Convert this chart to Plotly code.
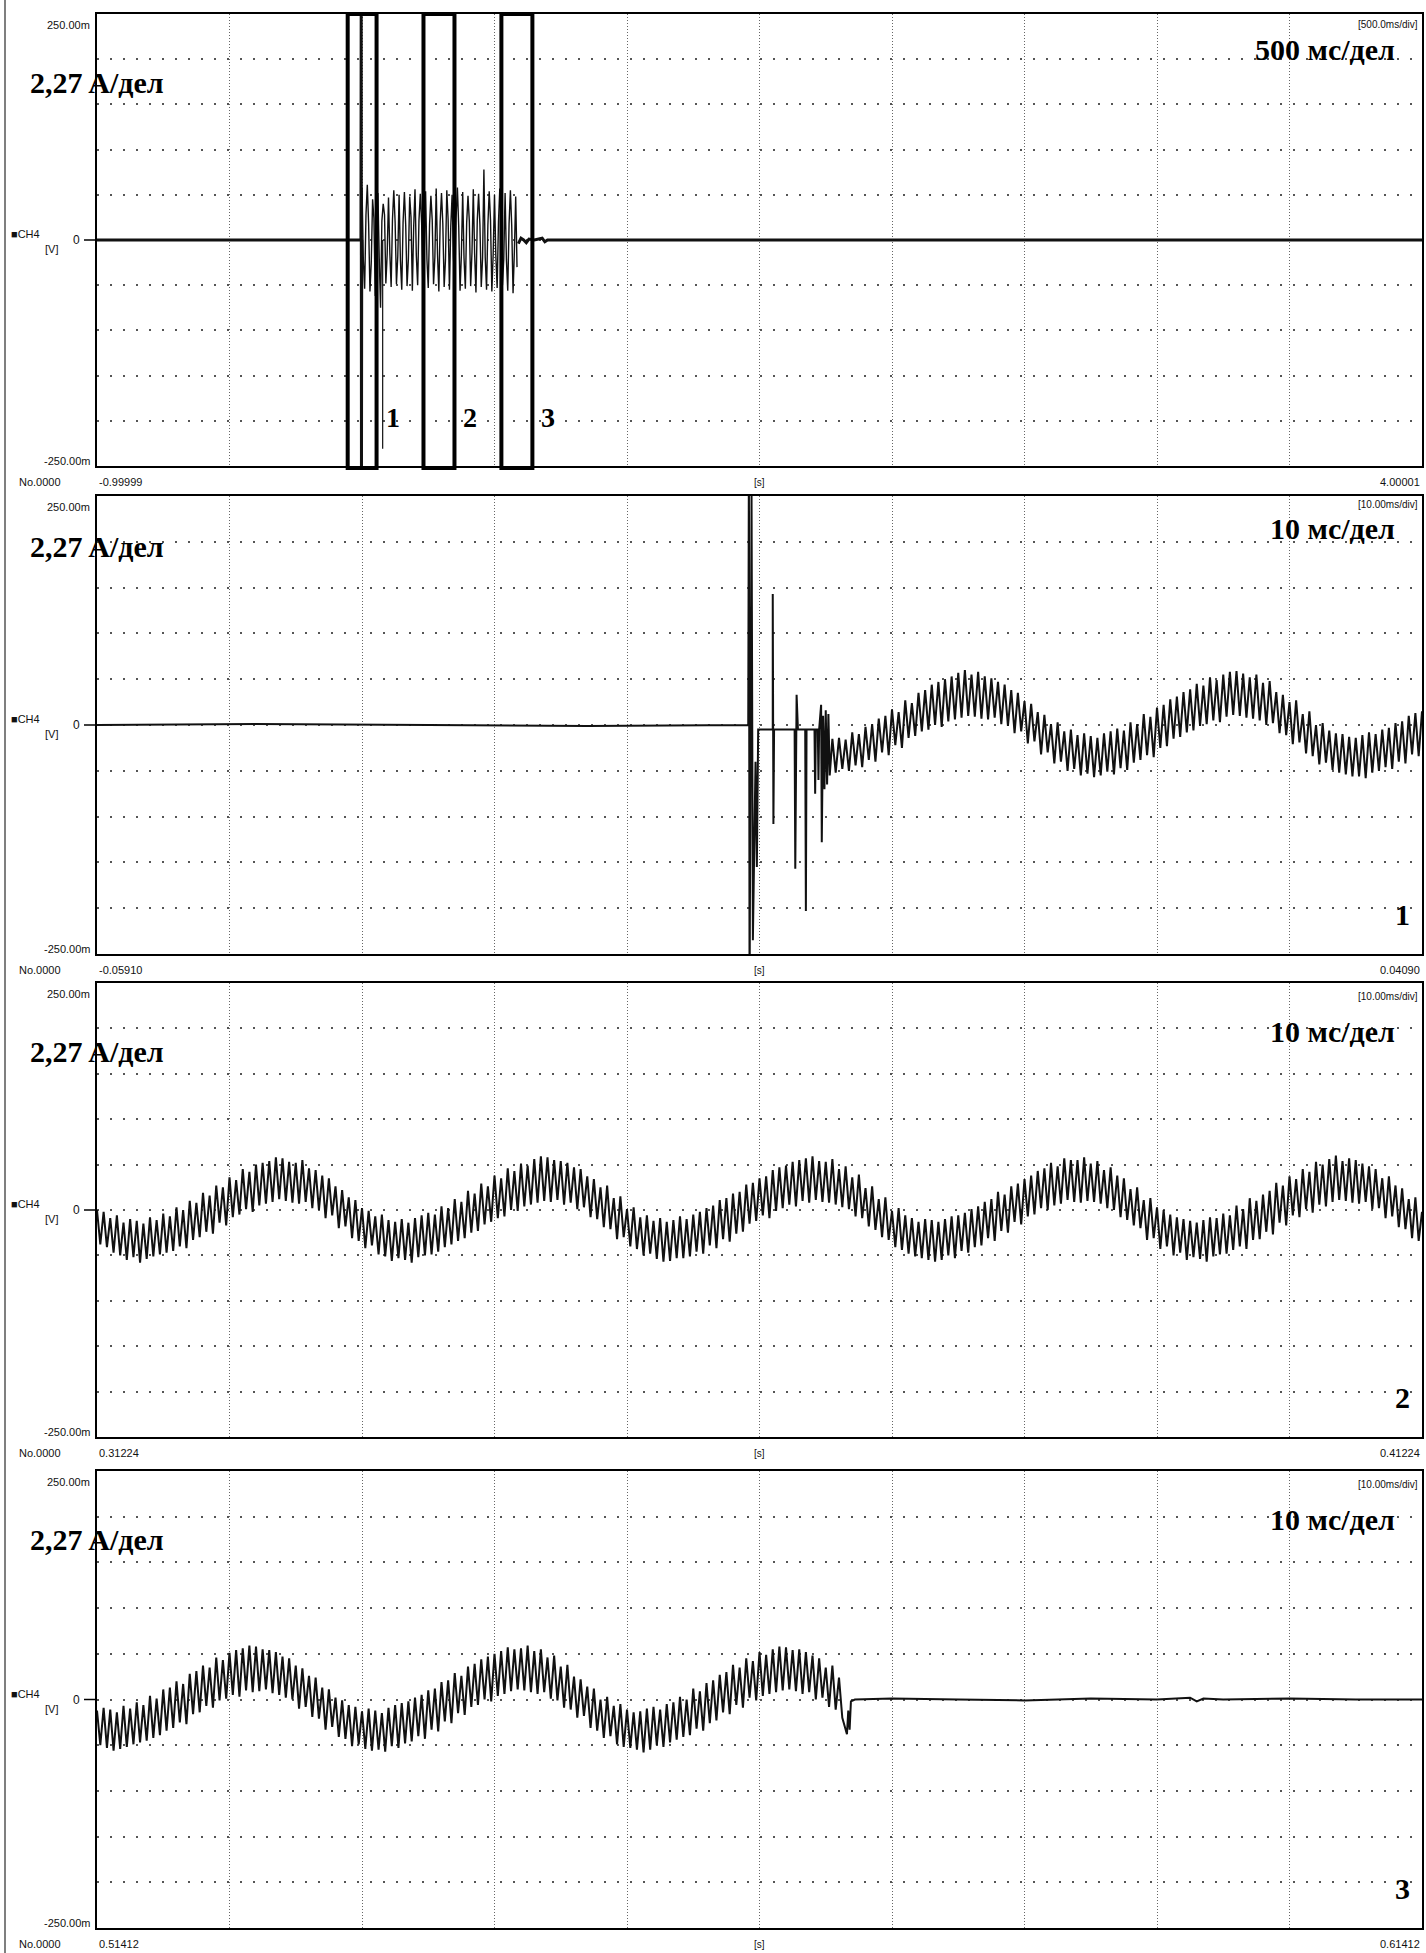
import numpy as np
import plotly.graph_objects as go

# ---------------------------------------------------------------- data
panel_start_s = [-0.99999, -0.05910, 0.31224, 0.51412]
panel_end_s = [4.00001, 0.04090, 0.41224, 0.61412]
start_labels = ["-0.99999", "-0.05910", "0.31224", "0.51412"]
end_labels = ["4.00001", "0.04090", "0.41224", "0.61412"]
div_labels = ["[500.0ms/div]", "[10.00ms/div]", "[10.00ms/div]", "[10.00ms/div]"]
scale_labels = ["500 мс/дел", "10 мс/дел", "10 мс/дел", "10 мс/дел"]
current_label = "2,27 A/дел"
panel_numbers = ["", "1", "2", "3"]
y_top_label, y_bottom_label = "250.00m", "-250.00m"

# zoom windows marked on the overview (s) and their labels
zoom_windows_s = [(-0.054, 0.055), (0.232, 0.349), (0.526, 0.643)]
zoom_window_labels = ["1", "2", "3"]

# --- panel 1 (overview, 500 ms/div)
ov_pre_s = [-0.99999, -0.004, -0.003, -0.002, -0.001]
ov_pre_V = [0.0, 0.0, 0.27, -0.27, 0.0]
ov_burst_step_ms = 5.0
ov_burst_mV = [
    58, -22, -54, 28, 61, 18, -57, -25, 45, 24, -62, 16, 52, -19, -75, 21,
    40, 28, -48, -16, 47, -14, -52, 23, 55, 20, -49, -18, 50, -23, -55, 19,
    53, 16, -51, -21, 48, 25, -56, 14, 56, -17, -50, 22, 51, 19, -58, -15,
    54, -21, -53, 17, 49, 22, -49, -19, 57, -16, -57, 20, 52, 18, -52, -22,
    55, 23, -55, 15, 50, -18, -50, 24, 58, 15, -56, -17, 53, -20, -54, 19,
    49, 21, -51, -14, 56, -15, -58, 22, 51, 17, -52, -20, 78, -19, -55, 16,
    54, 22, -57, -16, 50, -17, -53, 20, 57, 19, -50, -21, 52, -22, -56, 18,
    55, 16, -59, -13, 48, -30]
ov_spike_s = [0.078, 0.078]
ov_spike_V = [0.0, -0.231]
ov_post_s = [0.59, 0.60, 0.61, 0.62, 0.63, 0.65, 0.68, 0.69, 0.70, 4.00001]
ov_post_mV = [-4, 2, 0, -3, 1, 0, 2, -2, 0, 0]

# --- panel 2 (switch-on transient), ms from panel start
p2_pre_ms = [0, 12, 25, 37, 49.15, 49.2, 49.25, 49.4, 49.5, 49.7, 49.8, 49.9,
             51.0, 51.0, 51.05, 51.1, 52.65, 52.7, 52.8, 52.9, 53.45, 53.5, 53.55,
             54.15, 54.2, 54.25, 54.4, 54.45, 54.5, 54.65, 54.7, 54.8, 54.9,
             55.0, 55.1, 55.2, 55.3]
p2_pre_mV = [0, 1, 0, -1, 0, 300, -300, 250, -235, -40, -155, -5,
             -5, 143, -108, -5, -5, -157, 33, -5, -5, -203, -5,
             -5, -75, -5, -5, -60, -5, 22, -128, 10, -70,
             16, -65, 12, -55]
p2_ripple_start_ms = 55.5
ripple_step_ms = 0.25
p2_ripple_mV = [
    -15, -52,
    -14, -48, -16, -50, -8, -44, -10, -46, -2, -38, 1, -40, 7, -30, 10, -33,
    17, -22, 14, -25, 27, -14, 24, -12, 35, -7, 38, -5, 44, 0, 47, -2, 50, 4, 53, 6,
    57, 8, 60, 10, 55, 9, 58, 7, 53, 6, 51, 8, 47, 1, 44, -1, 38, -9, 35, -7,
    26, -20, 23, -18, 14, -32, 11, -30, 1, -42, 3, -40, -7, -50, -5, -48, -11, -55, -9, -53,
    -12, -57, -14, -55, -9, -51, -7, -54, -4, -47, -6, -49, 3, -41, 1, -38, 12, -33, 9, -35,
    19, -25, 22, -23, 28, -15, 31, -13, 36, -8, 39, -6, 45, -1, 43, 1, 52, 5, 49, 3,
    55, 9, 58, 11, 59, 10, 56, 8, 52, 7, 55, 5, 46, 0, 48, 2, 36, -9, 33, -11,
    25, -21, 27, -19, 12, -31, 15, -34, 0, -43, 2, -41, -6, -49, -9, -52, -10, -54, -13, -56,
    -14, -56, -11, -58, -8, -52, -10, -50, -5, -46, -3, -48, 2, -40, 4, -42, 10, -32, 13, -34,
    15]

# --- panel 3 (steady state), ms from panel start, 0.25 ms steps
p3_ripple_mV = [
    0, -38, -2, -41, -9, -47, -6, -50, -14, -55, -10, -52, -12, -58, -15, -54, -8, -51, -11, -49,
    -4, -47, -7, -45, 3, -40, 0, -42, 10, -33, 8, -30, 19, -24, 16, -26, 27, -14, 25, -17,
    36, -8, 33, -5, 45, 1, 42, -2, 50, 5, 52, 7, 54, 9, 58, 12, 57, 10, 53, 8,
    52, 7, 55, 9, 46, 2, 44, 0, 38, -9, 35, -6, 26, -20, 22, -18, 14, -31, 11, -34,
    2, -42, -1, -39, -7, -49, -5, -51, -11, -56, -13, -53, -10, -55, -14, -58, -9, -52, -6, -50,
    -3, -49, -5, -46, 4, -41, 2, -38, 12, -34, 9, -31, 21, -25, 18, -23, 29, -16, 26, -13,
    38, -9, 35, -7, 46, 0, 43, -1, 51, 4, 49, 6, 56, 8, 59, 10, 58, 9, 55, 11,
    54, 6, 52, 8, 47, 1, 45, 3, 37, -8, 34, -10, 25, -19, 27, -21, 13, -32, 15, -30,
    1, -40, 3, -43, -8, -50, -6, -48, -12, -54, -9, -57, -13, -56, -11, -53, -7, -53, -10, -51,
    -5, -46, -2, -48, 2, -39, 5, -42, 11, -32, 13, -35, 18, -26, 20, -24, 28, -15, 30, -12,
    35, -6, 37, -9, 44, -1, 47, 2, 49, 6, 53, 4, 55, 10, 57, 8, 59, 11, 54, 9,
    53, 8, 56, 6, 45, 3, 48, 1, 36, -7, 39, -9, 24, -18, 26, -22, 12, -30, 14, -33,
    -1, -41, 2, -44, -6, -48, -9, -51, -13, -53, -10, -55, -11, -57, -13, -55, -10, -50, -7, -53,
    -6, -45, -3, -47, 1, -41, 4, -39, 9, -31, 12, -34, 20, -23, 17, -25, 26, -13, 29, -16,
    34, -7, 38, -5, 43, 2, 46, 0, 52, 5, 48, 7, 57, 11, 55, 9, 55, 8, 58, 10,
    51, 9, 54, 7, 44, 2, 47, 0, 38, -8, 35, -11, 23, -17, 25, -20, 11, -33, 13, -31,
    3, -43, 0, -40, -5, -50, -8, -47, -10, -55, -12, -52, -14, -54, -11, -57, -8, -51, -9, -49,
    -4, -48, -6, -44, 5, -40, 1, -43, 13, -33, 10, -32, 17, -24, 21, -27, 30, -14, 27, -17,
    37, -6, 34, -8, 45, 1, 42, -3, 53, 6, 50, 4, 56, 9, 60, 11, 54, 10, 57, 8,
    55, 7, 51, 9, 48, 1, 45, 2, 35, -9, 37, -7, 27, -19, 24, -21, 12, -31, 14, -34,
    -2]

# --- panel 4 (switch-off), ms from panel start
p4_ripple_mV = [
    -12, -50, -9, -53, -11, -56, -14, -54, -7, -52, -10, -49, -3, -47, -6, -45, 4, -42, 1, -39,
    11, -34, 13, -31, 20, -25, 17, -27, 28, -16, 31, -14, 37, -7, 35, -9, 46, -1, 43, 1,
    51, 5, 54, 3, 56, 10, 59, 8, 58, 9, 55, 11, 54, 7, 52, 5, 47, 2, 45, 0,
    37, -10, 34, -8, 26, -19, 24, -21, 13, -33, 11, -30, 2, -41, -1, -43, -6, -51, -8, -49,
    -13, -54, -10, -56, -12, -55, -15, -57, -9, -51, -6, -53, -4, -48, -2, -46, 2, -40, 5, -43,
    10, -33, 12, -35, 19, -24, 21, -26, 29, -15, 26, -17, 36, -8, 39, -6, 44, 0, 47, -2,
    50, 4, 53, 6, 57, 9, 55, 11, 56, 10, 59, 8, 53, 6, 55, 8, 46, 1, 48, -1,
    36, -9, 38, -11, 25, -20, 22, -18, 14, -31, 12, -34, 0, -42, 3, -40, -7, -49, -5, -52,
    -11, -53, -14, -55, -13, -58, -10, -55, -8, -50, -11, -52, -5, -47, -3, -44, 3, -41, 0, -39,
    12, -32, 9, -34, 18, -26, 21, -23, 27, -14, 30, -16, 38, -6, 35, -9, 45, 2, 42, -1,
    52, 4, 49, 6, 55, 8, 58, 10, 57, 11, 54, 9, 55, 6, 52, 8, 48, 0, 45, 2,
    35, -8, 37, -11, 24, -20]
p4_tail_ms = [56.6, 56.7, 56.8, 56.9, 57.2, 60, 65, 70, 75, 80, 82.5, 83, 83.5, 85, 90, 95, 100]
p4_tail_mV = [-38, -12, -33, -2, 0, 1, 0, -1, 1, 0, 2, -2, 1, 0, 1, 0, 0]

# ---------------------------------------------------------------- layout geometry (px)
W, H = 1426, 1953
X0, X1 = 97, 1422
PANELS = [(14, 466), (496, 954), (983, 1437), (1471, 1928)]
DIV_DY = [11, 8, 13, 13]         # small "[..ms/div]" label below panel top
SCALE_DY = [36, 32, 48, 48]      # big "мс/дел" label below panel top
CURRENT_DY = [69, 50, 68, 68]    # big "A/дел" label below panel top


def fx(p):
    return p / W


def fy(p):
    return 1 - p / H


INK = "#111111"
SMALL = dict(family="Liberation Sans Narrow, Liberation Sans, Arial, sans-serif", size=11, color=INK)
BIG = dict(family="Liberation Serif, Times New Roman, serif", size=30, color="black")

fig = go.Figure()


def axes_names(i):
    return ("x", "y") if i == 0 else (f"x{i+1}", f"y{i+1}")


def add_line(i, x, y, width):
    xa, ya = axes_names(i)
    fig.add_trace(go.Scatter(x=x, y=y, mode="lines", xaxis=xa, yaxis=ya,
                             line=dict(color=INK, width=width),
                             hoverinfo="skip", showlegend=False))


mv = lambda arr: np.asarray(arr, dtype=float) / 1000.0

# panel 1
add_line(0, ov_pre_s, ov_pre_V, 3)
burst_t = np.arange(len(ov_burst_mV)) * ov_burst_step_ms / 1000.0
add_line(0, burst_t, mv(ov_burst_mV), 1.4)
add_line(0, ov_spike_s, ov_spike_V, 1.2)
add_line(0, ov_post_s, mv(ov_post_mV), 3)

# panel 2
s2 = panel_start_s[1]
t2 = np.concatenate([np.asarray(p2_pre_ms) / 1000.0,
                     (p2_ripple_start_ms + np.arange(len(p2_ripple_mV)) * ripple_step_ms) / 1000.0]) + s2
v2 = np.concatenate([mv(p2_pre_mV), mv(p2_ripple_mV)])
add_line(1, t2, v2, 2)

# panel 3
s3 = panel_start_s[2]
t3 = s3 + np.arange(len(p3_ripple_mV)) * ripple_step_ms / 1000.0
add_line(2, t3, mv(p3_ripple_mV), 2)

# panel 4
s4 = panel_start_s[3]
t4 = s4 + np.concatenate([np.arange(len(p4_ripple_mV)) * ripple_step_ms,
                          np.asarray(p4_tail_ms)]) / 1000.0
v4 = np.concatenate([mv(p4_ripple_mV), mv(p4_tail_mV)])
add_line(3, t4, v4, 2)

annotations = []
shapes = []


def ann(x, y, text, font, xanchor="left", yanchor="middle", **kw):
    annotations.append(dict(x=x, y=y, xref="paper", yref="paper", text=text, showarrow=False,
                            font=font, xanchor=xanchor, yanchor=yanchor, **kw))


for i, (top, bot) in enumerate(PANELS):
    xa, ya = axes_names(i)
    s, e = panel_start_s[i], panel_end_s[i]
    xkey = "xaxis" if i == 0 else f"xaxis{i+1}"
    ykey = "yaxis" if i == 0 else f"yaxis{i+1}"
    fig.layout[xkey] = dict(domain=[fx(X0), fx(X1)], range=[s, e], anchor=ya,
                            showline=True, mirror=True, linecolor="black", linewidth=2,
                            tickmode="linear", tick0=s, dtick=(e - s) / 10,
                            showgrid=True, gridcolor="#666666", griddash="1px,2px", gridwidth=1,
                            showticklabels=False, ticks="", zeroline=False, fixedrange=True)
    fig.layout[ykey] = dict(domain=[fy(bot), fy(top)], range=[-0.25, 0.25], anchor=xa,
                            showline=True, mirror=True, linecolor="black", linewidth=2,
                            tickmode="linear", tick0=0, dtick=0.05,
                            showgrid=True, gridcolor="#555555", griddash="2px,11px", gridwidth=1.5,
                            showticklabels=False, ticks="", zeroline=False, fixedrange=True)
    zero = (top + bot) / 2
    # left scale texts
    ann(fx(92), fy(top + 11), y_top_label, SMALL, xanchor="right")
    ann(fx(92), fy(bot - 5), y_bottom_label, SMALL, xanchor="right")
    ann(fx(9), fy(zero - 6), "■CH4", SMALL)
    ann(fx(43), fy(zero + 9), "[V]", SMALL)
    ann(fx(82), fy(zero), "0", dict(SMALL, size=12), xanchor="right")
    shapes.append(dict(type="line", xref="paper", yref="paper", x0=fx(84), x1=fx(X0),
                       y0=fy(zero), y1=fy(zero), line=dict(color="black", width=1.5)))
    # bottom texts
    ann(fx(17), fy(bot + 16), "No.0000", SMALL)
    ann(fx(X0), fy(bot + 16), start_labels[i], SMALL)
    ann(fx((X0 + X1) / 2), fy(bot + 16), "[s]", dict(SMALL, size=10), xanchor="center")
    ann(fx(X1), fy(bot + 16), end_labels[i], SMALL, xanchor="right")
    # top-right texts
    ann(fx(X1 - 2), fy(top + DIV_DY[i]), div_labels[i], dict(SMALL, size=10), xanchor="right")
    ann(fx(1397), fy(top + SCALE_DY[i]), "<b>" + scale_labels[i] + "</b>", BIG, xanchor="right")
    # big current scale
    ann(fx(28), fy(top + CURRENT_DY[i]), "<b>" + current_label + "</b>", BIG)
    if panel_numbers[i]:
        ann(fx(1402), fy(bot - 40), "<b>" + panel_numbers[i] + "</b>", BIG, xanchor="center")

# zoom windows on the overview
for (w0, w1), lab in zip(zoom_windows_s, zoom_window_labels):
    shapes.append(dict(type="rect", xref="x", yref="paper", x0=w0, x1=w1,
                       y0=fy(468), y1=fy(14), line=dict(color="black", width=4)))
    annotations.append(dict(x=w1, y=fy(417), xref="x", yref="paper", text="<b>" + lab + "</b>",
                            showarrow=False, font=dict(BIG, size=28), xanchor="left",
                            yanchor="middle", xshift=7))

# page edge line of the scan
shapes.append(dict(type="line", xref="paper", yref="paper", x0=fx(5), x1=fx(5), y0=0, y1=1,
                   line=dict(color="#555555", width=1.5)))

fig.update_layout(width=W, height=H, margin=dict(l=0, r=0, t=0, b=0),
                  paper_bgcolor="white", plot_bgcolor="white", showlegend=False,
                  annotations=annotations, shapes=shapes)

fig.write_html("out.html", config={"displayModeBar": False},
               post_script="document.body.style.margin='0';document.body.style.overflow='hidden';")
